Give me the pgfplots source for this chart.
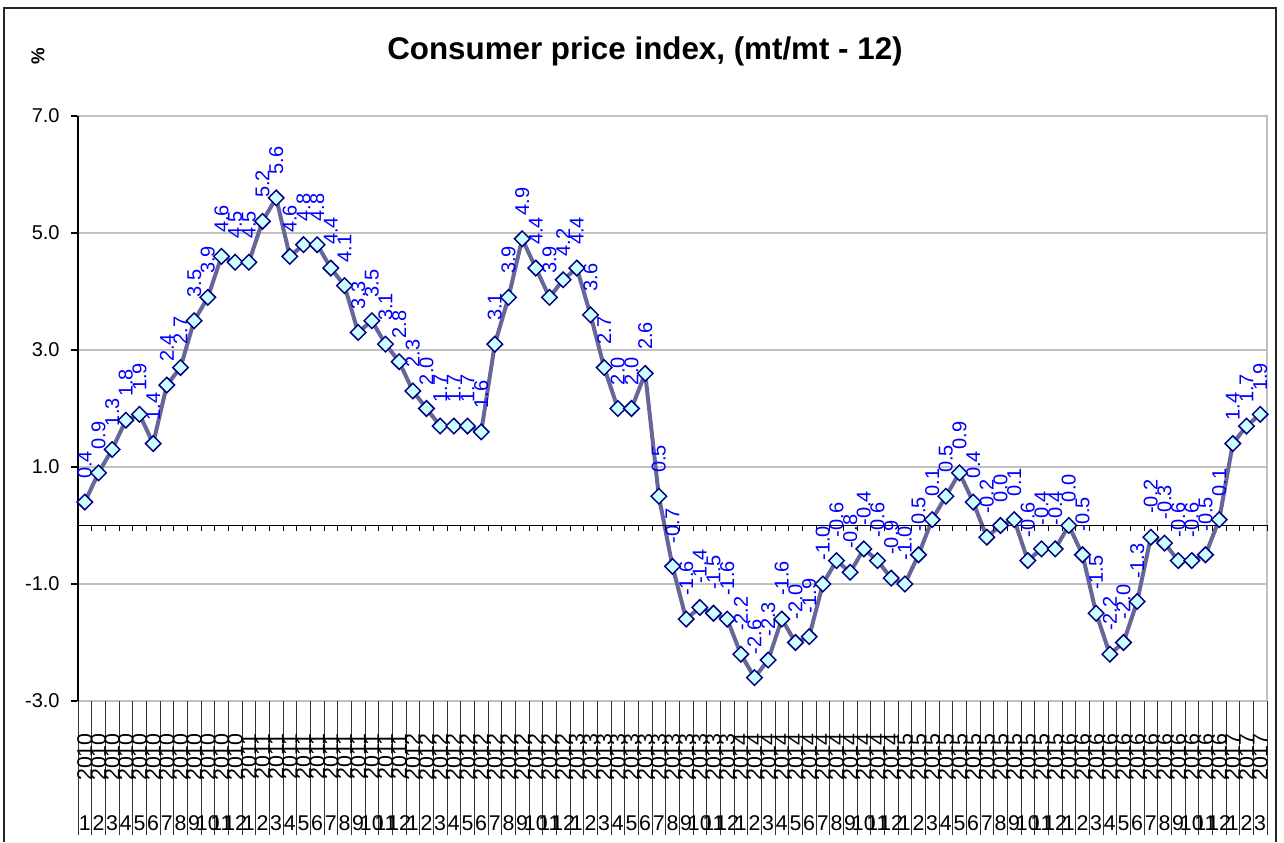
\documentclass[border=0pt]{standalone}
\usepackage{pgfplots}
\pgfplotsset{compat=1.18}
\usepackage{pgfplotstable}
\usepackage{fontspec}
\setmainfont{Liberation Sans}
\definecolor{linec}{RGB}{102,102,153}
\definecolor{markfill}{RGB}{204,255,255}
\definecolor{markdraw}{RGB}{0,0,128}
\definecolor{lblblue}{RGB}{0,0,255}
\definecolor{gridc}{RGB}{192,192,192}
\newcommand{\lblfont}{\fontsize{15pt}{16pt}\selectfont}
\newcommand{\catfont}{\fontsize{16pt}{17pt}\selectfont}
\pgfplotstableread{
i v
0 0.4
1 0.9
2 1.3
3 1.8
4 1.9
5 1.4
6 2.4
7 2.7
8 3.5
9 3.9
10 4.6
11 4.5
12 4.5
13 5.2
14 5.6
15 4.6
16 4.8
17 4.8
18 4.4
19 4.1
20 3.3
21 3.5
22 3.1
23 2.8
24 2.3
25 2.0
26 1.7
27 1.7
28 1.7
29 1.6
30 3.1
31 3.9
32 4.9
33 4.4
34 3.9
35 4.2
36 4.4
37 3.6
38 2.7
39 2.0
40 2.0
41 2.6
42 0.5
43 -0.7
44 -1.6
45 -1.4
46 -1.5
47 -1.6
48 -2.2
49 -2.6
50 -2.3
51 -1.6
52 -2.0
53 -1.9
54 -1.0
55 -0.6
56 -0.8
57 -0.4
58 -0.6
59 -0.9
60 -1.0
61 -0.5
62 0.1
63 0.5
64 0.9
65 0.4
66 -0.2
67 0.0
68 0.1
69 -0.6
70 -0.4
71 -0.4
72 0.0
73 -0.5
74 -1.5
75 -2.2
76 -2.0
77 -1.3
78 -0.2
79 -0.3
80 -0.6
81 -0.6
82 -0.5
83 0.1
84 1.4
85 1.7
86 1.9
}\cpidata
\begin{document}
\begin{tikzpicture}
% outer chart frame
\draw[black!85, line width=1.1pt] (3pt,0pt) -- (3pt,625.5pt) -- (957pt,625.5pt) -- (957pt,0pt);
\node[font=\bfseries\fontsize{23.5pt}{26pt}\selectfont, anchor=base] at (483.75pt,586.5pt) {Consumer price index, (mt/mt - 12)};
\node[font=\bfseries\fontsize{14pt}{16pt}\selectfont, rotate=90] at (28.5pt,589.5pt) {\%};
\begin{axis}[
  at={(58.5pt,105.75pt)}, anchor=south west,
  scale only axis, width=891.75pt, height=438.75pt,
  xmin=-0.5, xmax=86.5, ymin=-3, ymax=7,
  xtick=\empty,
  ytick={-3,-1,1,3,5,7},
  ytick pos=left,
  tick align=outside,
  major tick length=5.25pt,
  tick style={black, line width=0.8pt},
  yticklabel shift=5pt,
  /pgf/number format/assume math mode=true,
  yticklabel style={font=\lblfont, /pgf/number format/.cd, fixed, fixed zerofill, precision=1},
  ymajorgrids, grid style={gridc, line width=0.8pt},
  axis line style={gridc, line width=1.3pt},
  clip=false,
  point meta=explicit,
  nodes near coords={\pgfmathprintnumber[fixed,fixed zerofill,precision=1]{\pgfplotspointmeta}},
  nodes near coords align={west},
  every node near coord/.append style={rotate=90, anchor=west, font=\lblfont, text=lblblue, inner xsep=17pt, inner ysep=0pt},
]
\addplot[color=linec, line width=3pt, mark=square*, mark size=4.1pt,
  mark options={rotate=45, fill=markfill, draw=markdraw, line width=1.1pt, solid}]
  table[x=i, y=v, meta=v] {\cpidata};
\draw[black, line width=1.1pt] (rel axis cs:0,0) -- (rel axis cs:0,1);
\draw[black, line width=1.1pt] (axis cs:-0.5,0) -- (axis cs:86.5,0);
\pgfplotsinvokeforeach{-0.5,0.5,...,86.5}{%
  \draw[black, line width=0.7pt] (axis cs:#1,0) -- ([yshift=-4.5pt]axis cs:#1,0);
  \draw[black!80, line width=0.7pt] (axis cs:#1,-3) -- ([yshift=-100.5pt]axis cs:#1,-3);
}
\pgfplotsinvokeforeach{0,...,86}{%
  \pgfmathtruncatemacro{\yr}{2010+floor(#1/12)}%
  \pgfmathtruncatemacro{\mo}{#1-12*floor(#1/12)+1}%
  \edef\temp{\noexpand\node[rotate=90, anchor=east, font=\noexpand\catfont, inner sep=0pt] at ([yshift=-24pt]axis cs:#1,-3) {\yr};
    \noexpand\node[anchor=base, font=\noexpand\catfont, inner sep=0pt] at ([yshift=-96.75pt]axis cs:#1,-3) {\mo};}%
  \temp
}
\end{axis}
\pgfresetboundingbox
\path[use as bounding box] (0pt,0pt) rectangle (963pt,631.5pt);
\end{tikzpicture}
\end{document}
